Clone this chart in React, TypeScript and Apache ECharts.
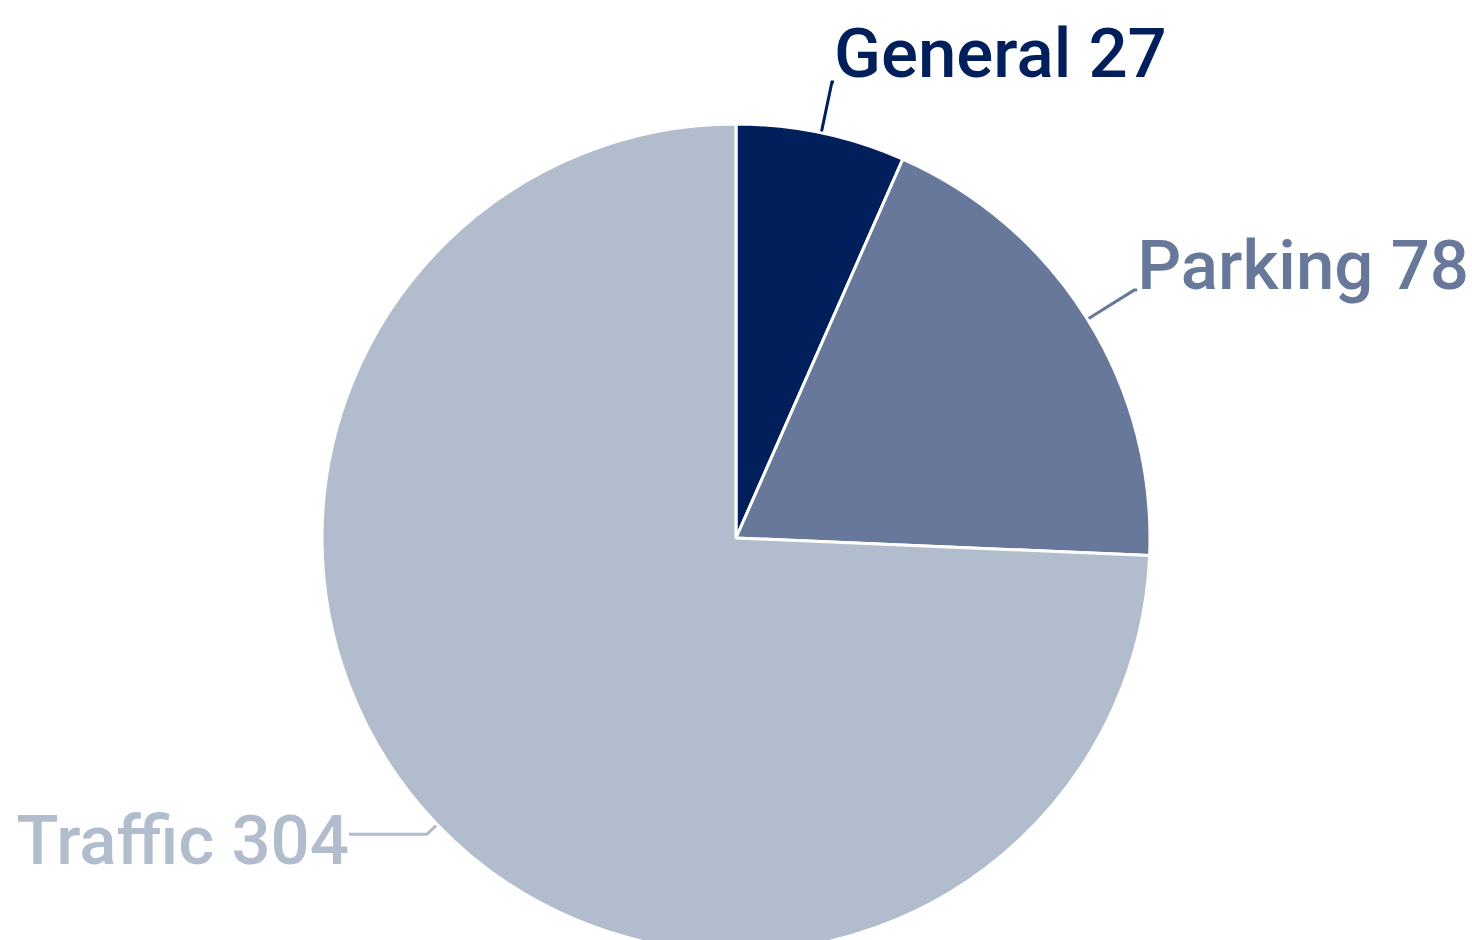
import React, { useEffect, useRef } from "react";
import * as echarts from "echarts";

const categories = ["General", "Parking", "Traffic"];
const values = [27, 78, 304];
const colors = ["#001f5b", "#67789a", "#b1bccd"];

export default function App() {
  const ref = useRef<HTMLDivElement>(null);
  useEffect(() => {
    if (!ref.current) return;
    const chart = echarts.init(ref.current, null, { renderer: "svg" });
    // spacer line heights shift each label relative to its leader line end
    const lineCfg = [
      { length: 52, length2: 2, above: 0, below: 56 },
      { length: 55, length2: 3, above: 0, below: 50 },
      { length: 14, length2: 78, above: 12, below: 0 },
    ];
    const fs = 69;
    chart.setOption({
      animation: false,
      backgroundColor: "#ffffff",
      series: [
        {
          type: "pie",
          center: [736, 538],
          radius: 414,
          startAngle: 90,
          clockwise: true,
          avoidLabelOverlap: false,
          itemStyle: { borderColor: "#ffffff", borderWidth: 3 },
          label: {
            show: true,
            fontFamily: "Roboto",
            fontWeight: 500,
            fontSize: fs,
            distanceToLabelLine: 0,
          },
          labelLine: { show: true, lineStyle: { width: 3 } },
          data: categories.map((name, i) => {
            const c = lineCfg[i];
            const parts: string[] = [];
            if (c.above) parts.push("{sa| }");
            parts.push("{t|" + name + " " + values[i] + "}");
            if (c.below) parts.push("{sb| }");
            return {
              name,
              value: values[i],
              itemStyle: { color: colors[i] },
              label: {
                color: colors[i],
                formatter: parts.join("\n"),
                rich: {
                  t: {
                    fontFamily: "Roboto",
                    fontWeight: 500,
                    fontSize: fs,
                    lineHeight: fs,
                    color: colors[i],
                  },
                  sa: { fontSize: 4, lineHeight: c.above || 1 },
                  sb: { fontSize: 4, lineHeight: c.below || 1 },
                },
              },
              labelLine: {
                length: c.length,
                length2: c.length2,
                lineStyle: { color: colors[i] },
              },
            };
          }),
        },
      ],
    });
    return () => chart.dispose();
  }, []);
  return (
    <div
      ref={ref}
      style={{ position: "absolute", left: 0, top: 0, width: 1472, height: 940 }}
    />
  );
}
